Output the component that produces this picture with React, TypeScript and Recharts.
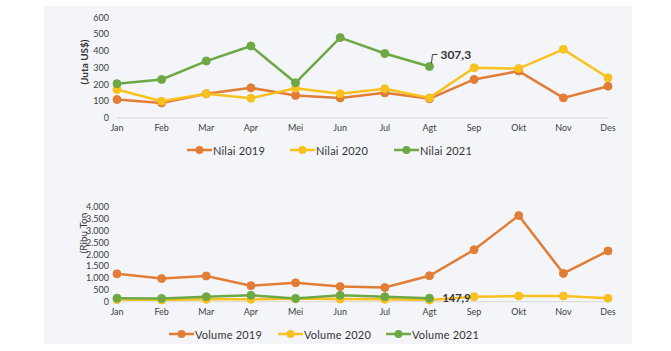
import { LineChart, Line, XAxis, YAxis, LabelList } from "recharts";

const months = ["Jan", "Feb", "Mar", "Apr", "Mei", "Jun", "Jul", "Agt", "Sep", "Okt", "Nov", "Des"];

const nilai2019 = [110, 90, 145, 180, 135, 120, 150, 115, 230, 280, 120, 190];
const nilai2020 = [170, 100, 145, 118, 178, 145, 175, 120, 300, 295, 410, 240];
const nilai2021: (number | null)[] = [205, 230, 340, 430, 210, 480, 385, 307.3, null, null, null, null];

const volume2019 = [1180, 980, 1090, 680, 800, 640, 600, 1100, 2200, 3650, 1200, 2150];
const volume2020 = [90, 70, 100, 100, 120, 110, 100, 70, 210, 240, 240, 145];
const volume2021: (number | null)[] = [150, 140, 210, 270, 140, 270, 210, 147.9, null, null, null, null];

const nilaiTicks = [0, 100, 200, 300, 400, 500, 600];
const volumeTicks = [0, 500, 1000, 1500, 2000, 2500, 3000, 3500, 4000];

const ORANGE = "#E27D36";
const YELLOW = "#F9C11E";
const GREEN = "#6DA845";
const FONT = "Lato, 'Open Sans', sans-serif";

const nilaiData = months.map((m, i) => ({
  month: m,
  y2019: nilai2019[i],
  y2020: nilai2020[i],
  y2021: nilai2021[i],
}));

const volumeData = months.map((m, i) => ({
  month: m,
  y2019: volume2019[i],
  y2020: volume2020[i],
  y2021: volume2021[i],
}));

const tick = { fontSize: 9, fill: "#404040", fontFamily: FONT };

const fmtThousands = (v: number) => String(v).replace(/\B(?=(\d{3})+(?!\d))/g, ".");

function NilaiLabel(props: any) {
  const { x, y, value, index } = props;
  if (index !== 7 || value == null) return null;
  return (
    <g>
      <path
        d={`M${x + 2},${y - 3} L${x + 3},${y - 12} L${x + 8},${y - 12}`}
        stroke="#404040"
        strokeWidth={1}
        fill="none"
      />
      <text x={x + 11} y={y - 8} fontSize={12} fontWeight={700} fill="#333" fontFamily={FONT}>
        {String(value).replace(".", ",")}
      </text>
    </g>
  );
}

function VolumeLabel(props: any) {
  const { x, y, value, index } = props;
  if (index !== 7 || value == null) return null;
  return (
    <text x={x + 13} y={y + 4} fontSize={11} fontWeight={700} fill="#333" fontFamily={FONT}>
      {String(value).replace(".", ",")}
    </text>
  );
}

function LegendRow({ top, items }: { top: number; items: { label: string; color: string; x: number }[] }) {
  return (
    <>
      {items.map((it) => (
        <div
          key={it.label}
          style={{
            position: "absolute",
            left: it.x,
            top,
            display: "flex",
            alignItems: "center",
            fontFamily: FONT,
            fontSize: 11,
            letterSpacing: 0.2,
            color: "#333",
            height: 14,
            whiteSpace: "nowrap",
          }}
        >
          <svg width={25} height={10} style={{ marginRight: 1 }}>
            <line x1={0} y1={5} x2={25} y2={5} stroke={it.color} strokeWidth={2.5} />
            <circle cx={12.5} cy={5} r={4} fill={it.color} />
          </svg>
          <span>{it.label}</span>
        </div>
      ))}
    </>
  );
}

export default function App() {
  const lines = (labelComp: any) => [
    <Line
      key="a"
      type="linear"
      dataKey="y2019"
      stroke={ORANGE}
      strokeWidth={2.5}
      dot={{ r: 4, fill: ORANGE, stroke: ORANGE, strokeWidth: 1 }}
      isAnimationActive={false}
    />,
    <Line
      key="b"
      type="linear"
      dataKey="y2020"
      stroke={YELLOW}
      strokeWidth={2.5}
      dot={{ r: 4, fill: YELLOW, stroke: YELLOW, strokeWidth: 1 }}
      isAnimationActive={false}
    />,
    <Line
      key="c"
      type="linear"
      dataKey="y2021"
      stroke={GREEN}
      strokeWidth={2.5}
      dot={{ r: 4, fill: GREEN, stroke: GREEN, strokeWidth: 1 }}
      isAnimationActive={false}
    >
      <LabelList dataKey="y2021" content={labelComp} />
    </Line>,
  ];

  return (
    <div style={{ position: "absolute", left: 0, top: 0, width: 671, height: 351, background: "#fff", overflow: "hidden" }}>
      <div style={{ position: "absolute", left: 44, top: 6, width: 588, height: 338, background: "#F3F5F8" }} />

      {/* top chart: nilai */}
      <div style={{ position: "absolute", left: 44, top: 0 }}>
        <LineChart width={588} height={170} data={nilaiData} margin={{ top: 17.5, right: 24, left: 0, bottom: 22 }}>
          <XAxis
            dataKey="month"
            interval={0}
            tick={tick}
            tickLine={false}
            tickMargin={1}
            axisLine={{ stroke: "#D9D9D9" }}
            height={30}
          />
          <YAxis
            domain={[0, 600]}
            ticks={nilaiTicks}
            interval={0}
            tick={tick}
            tickLine={false}
            axisLine={false}
            width={73}
          />
          {lines(NilaiLabel)}
        </LineChart>
      </div>
      <div
        style={{
          position: "absolute",
          left: 84,
          top: 62,
          transform: "translate(-50%, -50%) rotate(-90deg)",
          fontFamily: FONT,
          fontSize: 10,
          fontWeight: 700,
          color: "#333",
          whiteSpace: "nowrap",
        }}
      >
        (Juta US$)
      </div>
      <LegendRow
        top={143}
        items={[
          { label: "Nilai 2019", color: ORANGE, x: 187 },
          { label: "Nilai 2020", color: YELLOW, x: 290 },
          { label: "Nilai 2021", color: GREEN, x: 394 },
        ]}
      />

      {/* bottom chart: volume */}
      <div style={{ position: "absolute", left: 44, top: 180 }}>
        <LineChart width={588} height={171} data={volumeData} margin={{ top: 27.3, right: 24, left: 0, bottom: 19.3 }}>
          <XAxis
            dataKey="month"
            interval={0}
            tick={tick}
            tickLine={false}
            tickMargin={1}
            axisLine={{ stroke: "#D9D9D9" }}
            height={30}
          />
          <YAxis
            domain={[0, 4000]}
            ticks={volumeTicks}
            interval={0}
            tick={tick}
            tickLine={false}
            axisLine={false}
            width={73}
            tickFormatter={fmtThousands}
          />
          {lines(VolumeLabel)}
        </LineChart>
      </div>
      <div
        style={{
          position: "absolute",
          left: 83,
          top: 233,
          transform: "translate(-50%, -50%) rotate(-90deg)",
          fontFamily: FONT,
          fontSize: 10,
          color: "#333",
          whiteSpace: "nowrap",
        }}
      >
        (Ribu Ton
      </div>
      <LegendRow
        top={327}
        items={[
          { label: "Volume 2019", color: ORANGE, x: 169 },
          { label: "Volume 2020", color: YELLOW, x: 278 },
          { label: "Volume 2021", color: GREEN, x: 386 },
        ]}
      />
    </div>
  );
}
